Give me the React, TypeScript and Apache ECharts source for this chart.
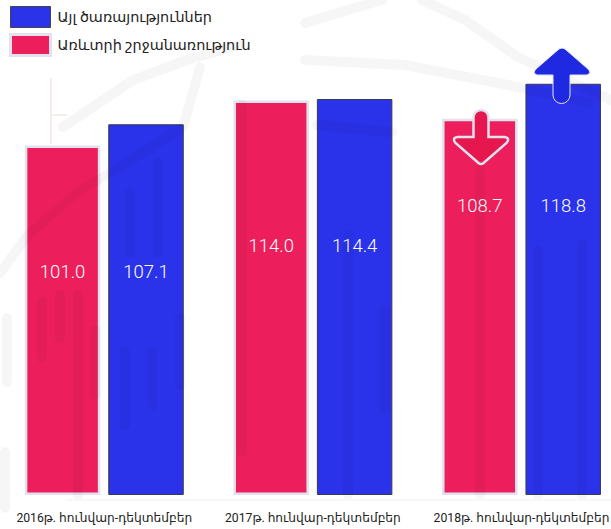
import React, { useEffect, useRef } from "react";
import * as echarts from "echarts";

const categories = ["2016թ. հունվար-դեկտեմբեր", "2017թ. հունվար-դեկտեմբեր", "2018թ. հունվար-դեկտեմբեր"];
const otherServices = [107.1, 114.4, 118.8];
const foreignTrade = [101.0, 114.0, 108.7];
const legendOther = "Այլ ծառայություններ";
const legendTrade = "Առևտրի շրջանառություն";

const FONT = "Roboto, 'Noto Sans', 'DejaVu Sans', sans-serif";
const RED = "#ec1f5c";
const BLUE = "#2a32ea";
const LAV = "#e2e2ef";

const GRID_H = 495;
const Y_MAX = 143;
const labelRows = [272, 246, 205.5];

echarts.graphic.registerShape("arrowUp", echarts.graphic.extendPath(
  "M24 1 Q27 -1 30 1 L53 21 Q57 25 52 27 L35 27 L35 47 A8.5 8.5 0 0 1 18 47 L18 27 L2 27 Q-3 25 1 21 Z", {}));
echarts.graphic.registerShape("arrowDown", echarts.graphic.extendPath(
  "M19 8.5 A7.5 7.5 0 0 1 34 8.5 L34 28 L50 28 Q56 29 52 34 L29 54 Q26.5 56 24 54 L1 34 Q-3 29 3 28 L19 28 Z", {}));

// faint watermark strokes of the background picture
const watermark: number[][][] = [
  [[0, 273], [27, 236], [80, 190], [110, 173], [183, 127], [200, 67]],
  [[63, 127], [133, 80], [187, 60], [240, 45]],
  [[305, 23], [348, 10], [382, 0]],
  [[422, 0], [465, 20], [518, 57], [611, 100]],
  [[305, 60], [405, 65], [518, 87], [588, 103]],
  [[317, 125], [392, 132]],
  [[130, 193], [130, 253]],
  [[158, 163], [158, 253]],
  [[125, 352], [125, 425]],
  [[153, 352], [153, 405]],
  [[180, 318], [180, 385]],
  [[42, 302], [42, 358]],
  [[60, 295], [60, 338]],
  [[78, 295], [78, 495]],
  [[95, 330], [95, 395]],
  [[7, 318], [7, 382]],
  [[5, 452], [5, 508]],
  [[242, 105], [242, 452]],
  [[348, 235], [348, 495]],
  [[385, 310], [385, 410]],
  [[480, 170], [480, 495]],
  [[538, 250], [538, 495]],
  [[582, 245], [582, 495]],
];

export default function App() {
  const ref = useRef<HTMLDivElement>(null);
  useEffect(() => {
    const chart = echarts.init(ref.current!, undefined, { renderer: "svg" });
    const pxPerUnit = GRID_H / Y_MAX;
    const withLabel = (vals: number[]) =>
      vals.map((v, i) => ({
        value: v,
        label: { offset: [0, labelRows[i] - (GRID_H - (v * pxPerUnit) / 2)] },
      }));
    const label = {
      show: true, position: "inside", color: "#fff", fontSize: 18.5, fontWeight: 300, fontFamily: FONT,
      formatter: (p: any) => p.value.toFixed(1),
    };
    chart.setOption({
      animation: false,
      backgroundColor: "#fff",
      textStyle: { fontFamily: FONT },
      legend: {
        left: 4, top: 1, orient: "vertical", itemWidth: 40, itemHeight: 21, itemGap: 5, selectedMode: false,
        textStyle: { fontSize: 14.4, color: "#222", fontFamily: FONT, padding: [0, 0, 0, 2] },
        data: [
          { name: legendOther, icon: "rect", itemStyle: { color: BLUE, borderColor: "#444", borderWidth: 1 } },
          { name: legendTrade, icon: "rect", itemStyle: { color: RED, borderColor: LAV, borderWidth: 3 } },
        ],
      },
      grid: { left: 0, top: 0, width: 625.8, height: GRID_H, containLabel: false },
      xAxis: {
        type: "category", data: categories,
        axisLine: { show: false }, axisTick: { show: false },
        axisLabel: { color: "#222", fontSize: 12.2, margin: 17, fontFamily: FONT, interval: 0 },
      },
      yAxis: { type: "value", min: 0, max: Y_MAX, show: false },
      series: [
        { name: legendTrade, type: "bar", data: withLabel(foreignTrade), barWidth: 75.5, barGap: "10.5%",
          itemStyle: { color: RED, borderColor: LAV, borderWidth: 2.5 }, label },
        { name: legendOther, type: "bar", data: withLabel(otherServices), barWidth: 75.5,
          itemStyle: { color: BLUE, borderColor: "#3a3a4a", borderWidth: 1 }, label },
      ],
      graphic: [
        ...watermark.map((pts) => ({
          type: "polyline", silent: true, z: 5,
          shape: { points: pts },
          style: { stroke: "#000", opacity: 0.035, lineWidth: 10, fill: "none", lineCap: "round", lineJoin: "round" },
        })),
        { type: "polyline", silent: true, z: 5, shape: { points: [[51, 78], [51, 144]] }, style: { stroke: "#f5ecec", lineWidth: 2, fill: "none" } },
        { type: "polyline", silent: true, z: 5, shape: { points: [[51, 115], [67, 115]] }, style: { stroke: "#f5ecec", lineWidth: 2, fill: "none" } },
        { type: "polyline", silent: true, z: 5, shape: { points: [[65, 500], [611, 500]] }, style: { stroke: "#f8f8f8", lineWidth: 2, fill: "none" } },
        { type: "arrowUp", x: 535, y: 48, z: 20, style: { fill: "#2029e2", stroke: "#e2e4f6", lineWidth: 1 } },
        { type: "arrowDown", x: 454.5, y: 109, z: 20, style: { fill: "#e6174f", stroke: LAV, lineWidth: 2.5 } },
      ],
    });
    return () => chart.dispose();
  }, []);
  return (
    <div style={{ width: 611, height: 529, position: "absolute", left: 0, top: 0, overflow: "hidden" }}>
      <div ref={ref} style={{ width: 640, height: 529 }} />
    </div>
  );
}
